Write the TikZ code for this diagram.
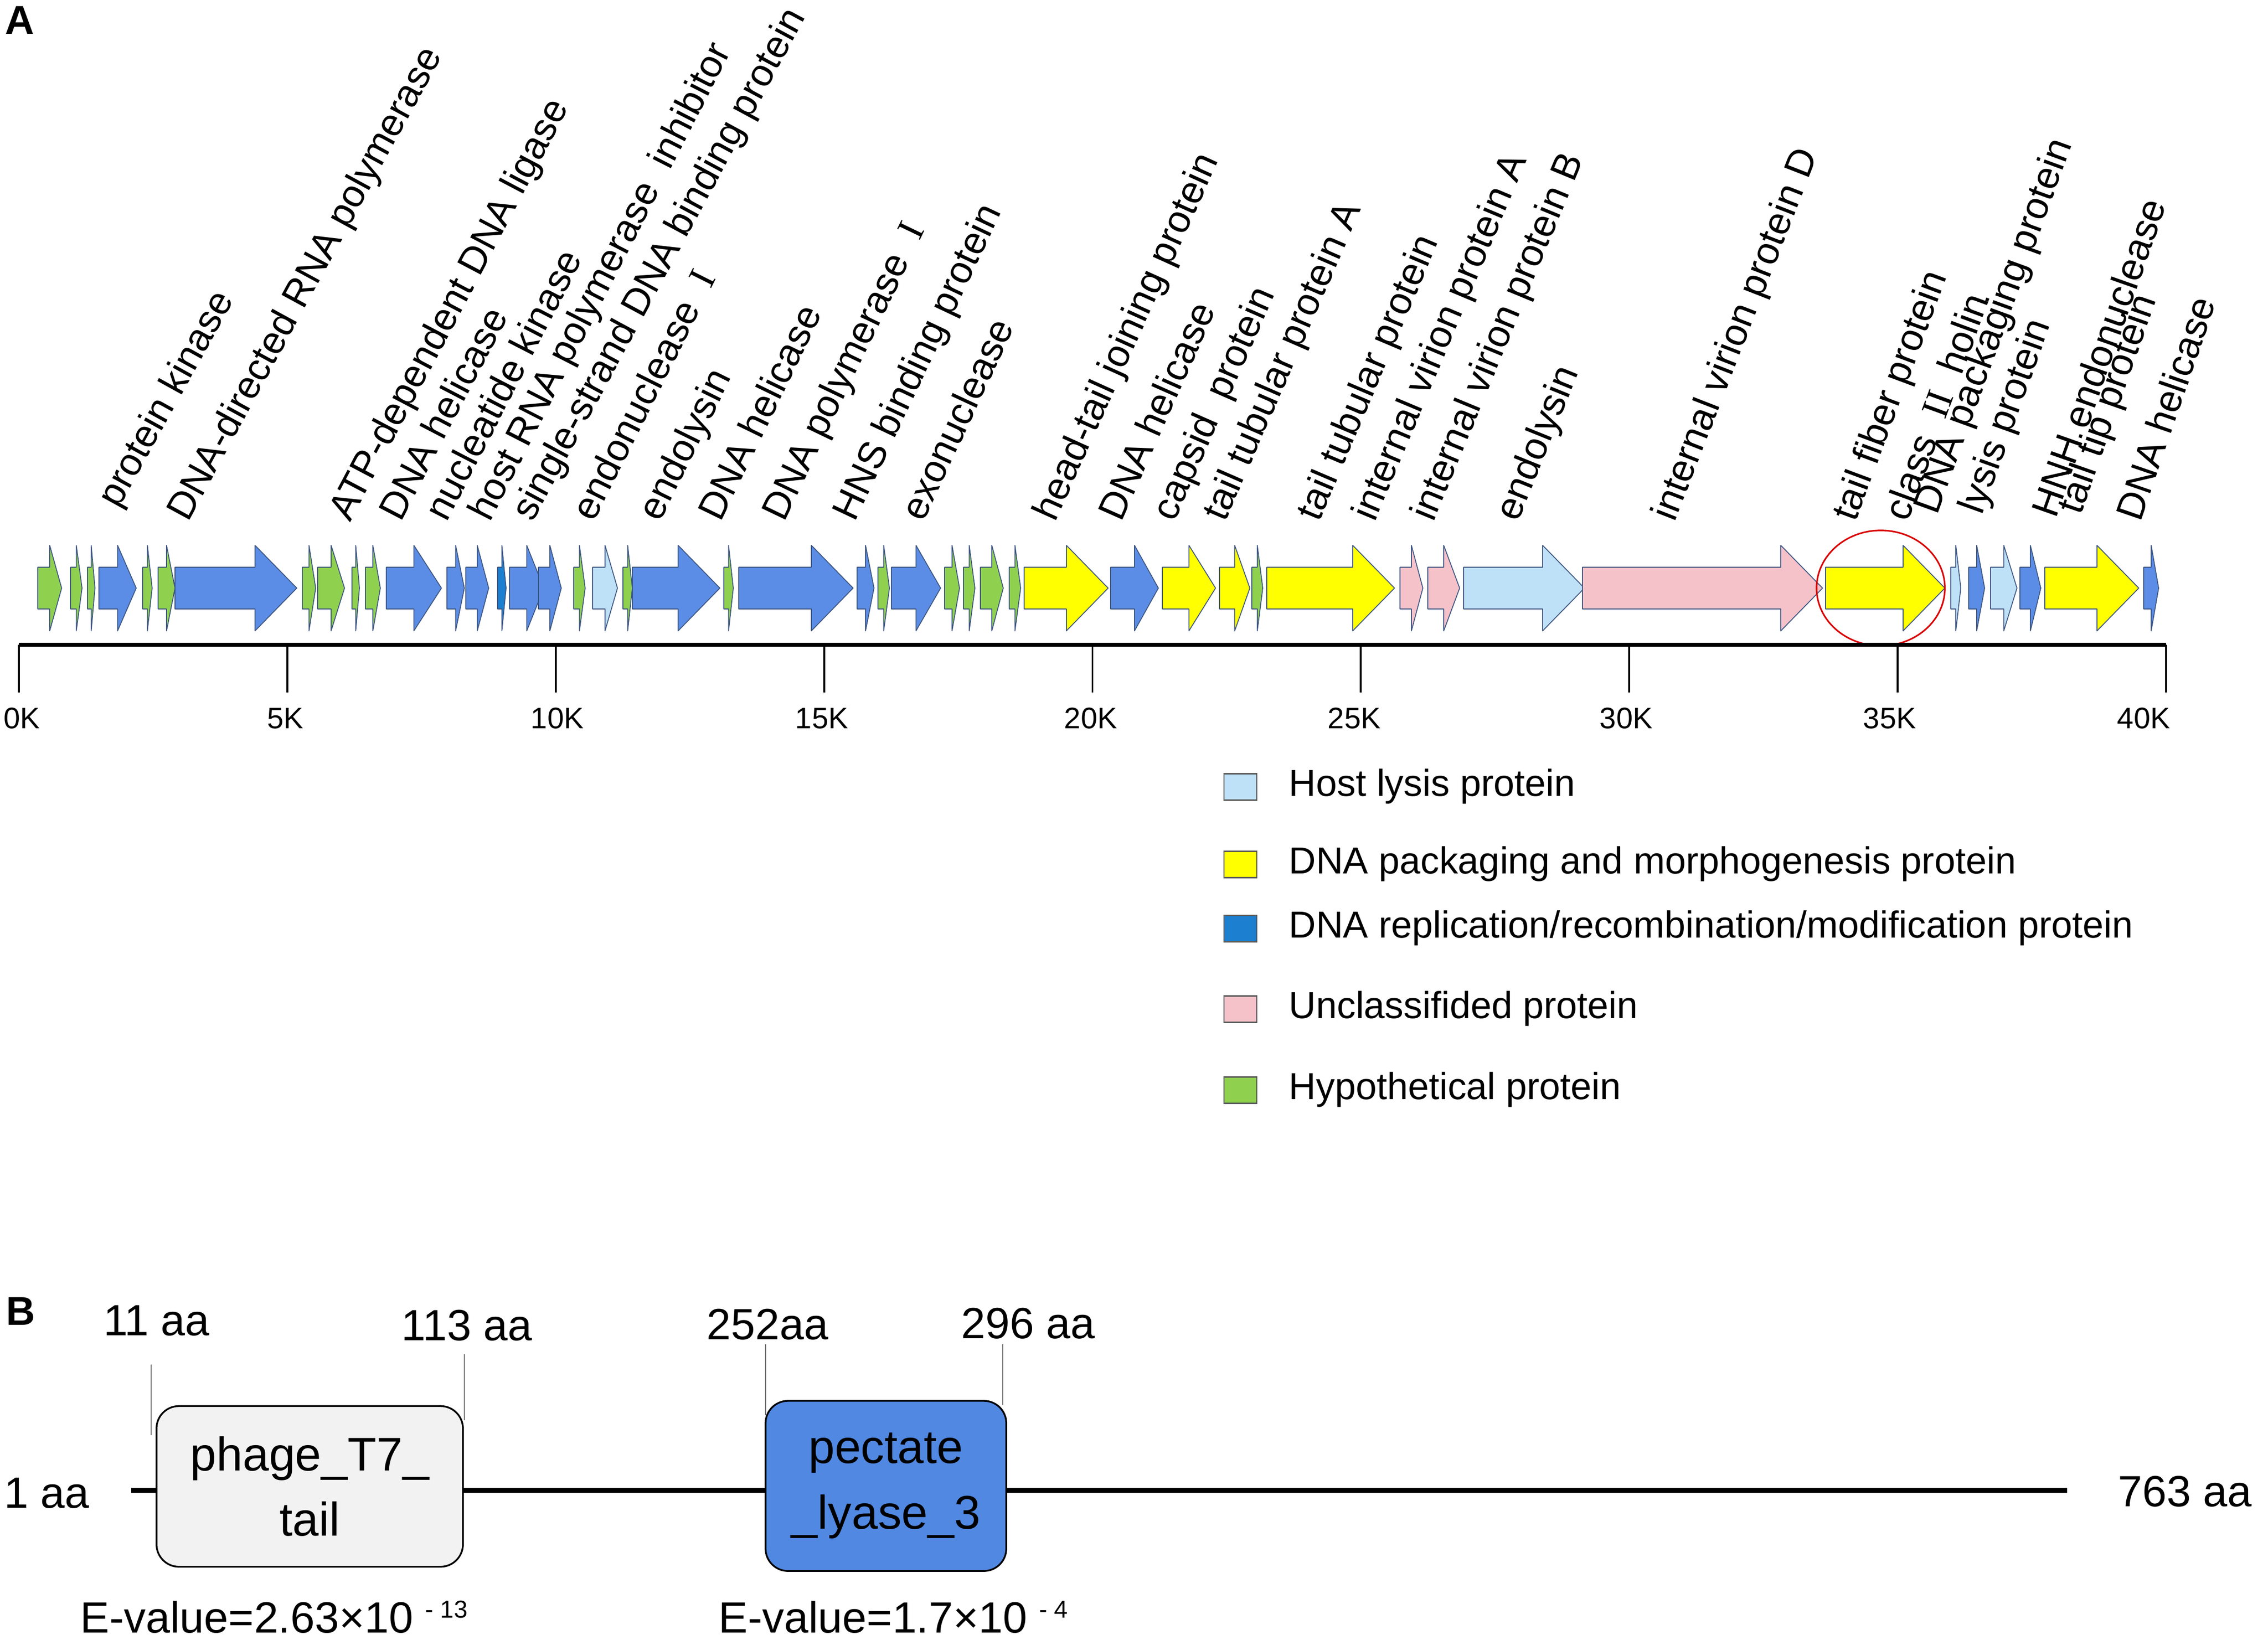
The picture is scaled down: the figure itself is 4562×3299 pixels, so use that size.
\documentclass[tikz,border=0pt]{standalone}
\usepackage{fontspec}
\setmainfont{Liberation Sans}
\newfontfamily\romI{Liberation Serif}
\definecolor{gG}{HTML}{8FD14F}
\definecolor{gB}{HTML}{5B8DE6}
\definecolor{gL}{HTML}{BFE1F7}
\definecolor{gY}{HTML}{FFFF00}
\definecolor{gP}{HTML}{F5C2CA}
\definecolor{gR}{HTML}{1C7FD0}
\definecolor{gOut}{HTML}{3D5580}
\definecolor{boxgray}{HTML}{F2F2F2}
\definecolor{domblue}{HTML}{5088E2}
\begin{document}
\begin{tikzpicture}[x=0.01cm,y=-0.01cm,
  gene/.style={draw=gOut, line width=0.5pt, line join=round},
  glabel/.style={anchor=base west, inner sep=0pt, font=\fontsize{22}{26}\selectfont},
  ticklab/.style={inner sep=0pt, font=\fontsize{17}{20}\selectfont},
  legsq/.style={draw=black!65, line width=0.8pt, minimum width=0.66cm, minimum height=0.53cm, inner sep=0pt},
  legtext/.style={anchor=base west, inner sep=0pt, font=\fontsize{21.5}{26}\selectfont},
  panel/.style={anchor=base west, inner sep=0pt, font=\fontsize{23}{26}\selectfont\bfseries},
  aalab/.style={inner sep=0pt, font=\fontsize{25}{30}\selectfont},
  dombox/.style={draw=black, line width=1pt, rounded corners=0.45cm, align=center, inner sep=0pt,
     font=\fontsize{27}{37.5}\selectfont},
  connl/.style={draw=black!55, line width=0.45pt}]
\useasboundingbox (0,0) rectangle (4562,3299);

% ---------------- Panel A ----------------
\node[panel] (lblA) at (10,68) {A};

% gene arrows
\foreach \s/\e/\c in {
  76/124/gG, 142/165/gG, 176/191/gG, 199/274/gB, 287/306/gG, 318/352/gG,
  352/597/gB, 608/635/gG, 639/693/gG, 708/723/gG, 735/765/gG, 777/888/gB,
  899/934/gB, 937/983/gB, 1001/1018/gR, 1025/1094/gB, 1083/1129/gB,
  1154/1177/gG, 1192/1242/gL, 1253/1272/gG, 1272/1448/gB, 1456/1475/gG,
  1486/1716/gB, 1724/1758/gB, 1766/1789/gG, 1793/1892/gB, 1900/1930/gG,
  1938/1961/gG, 1972/2018/gG, 2030/2053/gG, 2060/2229/gY, 2234/2330/gB,
  2338/2445/gY, 2453/2514/gY, 2518/2540/gG, 2548/2805/gY, 2816/2862/gP,
  2872/2936/gP, 2944/3187/gL, 3183/3666/gP, 3672/3912/gY, 3924/3944/gL,
  3960/3992/gB, 4004/4057/gL, 4063/4105/gB, 4113/4302/gY, 4312/4342/gB} {
  \pgfmathsetmacro\hl{min(84,(\e-\s)/2)}
  \pgfmathsetmacro\hb{\e-\hl}
  \filldraw[gene, fill=\c] (\s,1141) -- (\hb,1141) -- (\hb,1097) -- (\e,1183)
     -- (\hb,1269) -- (\hb,1225) -- (\s,1225) -- cycle;
}

% highlight ellipse
\draw[red!85!black, line width=0.9pt] (3783,1183) ellipse [x radius=1.29cm, y radius=1.16cm];

% gene labels (x / y / angle correction / text)
\foreach \x/\y/\d/\t [count=\i] in {
  238/1025/0/protein kinase,
  378/1052/0/DNA-directed RNA polymerase,
  704/1052/0/ATP-dependent DNA ligase,
  806/1052/0/DNA helicase,
  898/1052/0/nucleatide kinase,
  985/1052/0/host RNA polymerase\ \ inhibitor,
  1071/1052/-1.5/single-strand DNA binding protein,
  1194/1052/0/endonuclease\ \ {\romI I},
  1327/1052/0/endolysin,
  1449/1052/0/DNA helicase,
  1577/1052/0/DNA polymerase\ \ {\romI I},
  1719/1052/0/HNS binding protein,
  1857/1052/0/exonuclease,
  2122/1052/0/head-tail joining protein,
  2255/1052/0/DNA helicase,
  2362/1052/0/capsid\ \ protein,
  2464/1052/0/tail tubular protein A,
  2653/1052/0/tail tubular protein,
  2765/1052/0/internal virion protein A,
  2883/1052/0/internal virion protein B,
  3053/1052/0/endolysin,
  3368/1052/0/internal virion protein D,
  3732/1052/0/tail fiber protein,
  3837/1052/0/class\ \ {\romI II}\ \ holin,
  3896/1038/0/DNA packaging protein,
  3986/1038/0/lysis protein,
  4135/1045/0/HNH endonuclease,
  4185/1038/0/tail tip protein,
  4305/1052/0/DNA helicase} {
  \node[glabel, rotate={60.5+\x/410+\d}] (lab\i) at (\x,\y) {\t};
}

% axis
\coordinate (ax0) at (38,1297);
\coordinate (ax1) at (4357,1297);
\draw[line width=2.3pt] (ax0) -- (ax1);
\foreach \k/\lx in {0/44, 1/574, 2/1121, 3/1653, 4/2194, 5/2724, 6/3271, 7/3801, 8/4312} {
  \pgfmathsetmacro\tx{38+\k*539.875}
  \coordinate (tk\k) at (\tx,1297);
  \draw[line width=1.1pt] (tk\k) -- ++(0,96);
  \pgfmathtruncatemacro\kv{5*\k}
  \node[ticklab] (tl\k) at (\lx,1445) {\kv K};
}

% legend
\node[legsq, fill=gL] (sq1) at (2495,1583) {};
\node[legtext] (lt1) at (2592,1601) {Host lysis protein};
\node[legsq, fill=gY] (sq2) at (2495,1739) {};
\node[legtext] (lt2) at (2592,1757) {DNA packaging and morphogenesis protein};
\node[legsq, fill=gR] (sq3) at (2495,1868) {};
\node[legtext] (lt3) at (2592,1886) {DNA replication/recombination/modification protein};
\node[legsq, fill=gP] (sq4) at (2495,2030) {};
\node[legtext] (lt4) at (2592,2048) {Unclassifided protein};
\node[legsq, fill=gG] (sq5) at (2495,2193) {};
\node[legtext] (lt5) at (2592,2211) {Hypothetical protein};

% ---------------- Panel B ----------------
\node[panel] (lblB) at (12,2665) {B};

\coordinate (ls) at (264,2998);
\coordinate (le) at (4158,2998);
\draw[line width=2.6pt] (ls) -- (le);

\coordinate (v1a) at (304,2745);  \coordinate (v1b) at (304,2887);
\coordinate (v2a) at (934,2724);  \coordinate (v2b) at (934,2857);
\coordinate (v3a) at (1540,2704); \coordinate (v3b) at (1540,2847);
\coordinate (v4a) at (2017,2704); \coordinate (v4b) at (2017,2826);
\draw[connl] (v1a) -- (v1b);
\draw[connl] (v2a) -- (v2b);
\draw[connl] (v3a) -- (v3b);
\draw[connl] (v4a) -- (v4b);

\node[dombox, fill=boxgray, minimum width=6.16cm, minimum height=3.23cm] (dom1) at (623,2990)
  {phage\_T7\_\\tail};
\node[dombox, fill=domblue, minimum width=4.84cm, minimum height=3.42cm] (dom2) at (1782,2989)
  {pectate\\\_lyase\_3};

\node[aalab, anchor=base] (p11) at (315,2686) {11 aa};
\node[aalab, anchor=base] (p113) at (939,2696) {113 aa};
\node[aalab, anchor=base] (p252) at (1544,2694) {252aa};
\node[aalab, anchor=base] (p296) at (2068,2692) {296 aa};
\node[aalab, anchor=base west] (p1) at (8,3033) {1 aa};
\node[aalab, anchor=base west] (p763) at (4260,3030) {763 aa};

\node[aalab, anchor=base west] (ev1) at (161,3284)
  {E-value=2.63×10\ {\fontsize{14}{14}\selectfont\raisebox{8.5pt}{- 13}}};
\node[aalab, anchor=base west] (ev2) at (1445,3284)
  {E-value=1.7×10\ {\fontsize{14}{14}\selectfont\raisebox{8.5pt}{- 4}}};
\end{tikzpicture}
\end{document}
